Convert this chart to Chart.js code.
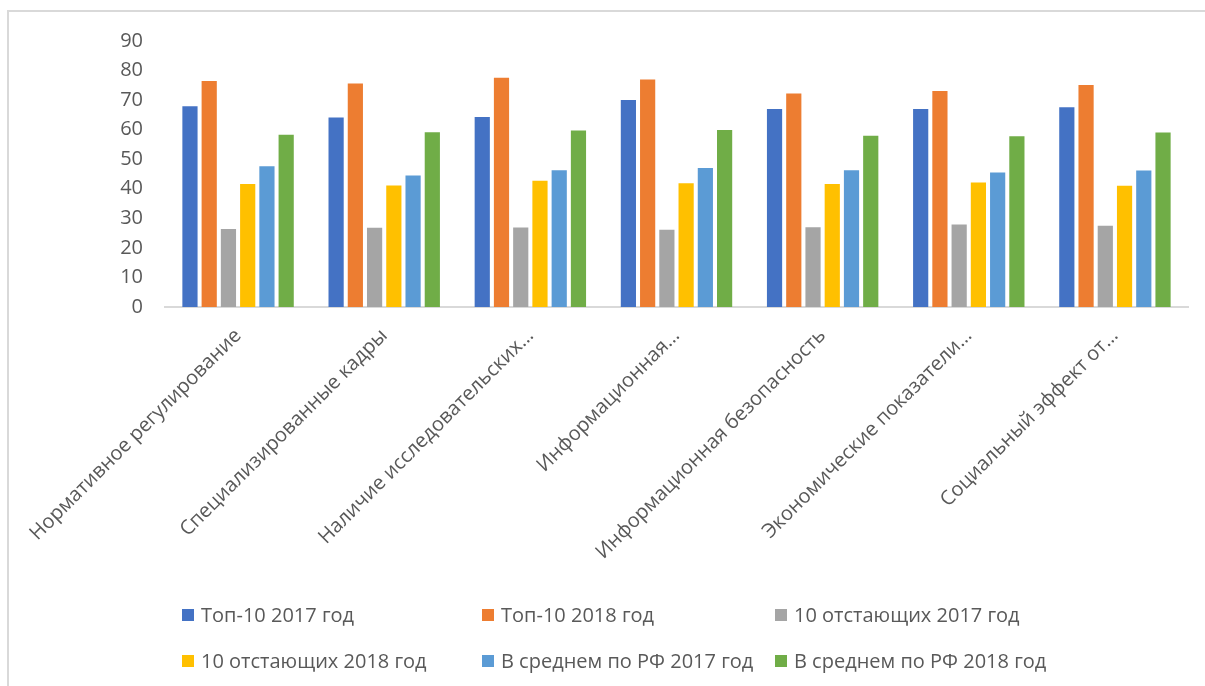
<!DOCTYPE html>
<html>
<head>
<meta charset="utf-8">
<script src="https://cdn.jsdelivr.net/npm/chart.js@4"></script>
<style>
  html, body { margin: 0; padding: 0; background: #fff; overflow: hidden; }
  #frame { position: absolute; left: 7px; top: 10px; width: 1220px; height: 700px; border: 2px solid #d9d9d9; box-sizing: border-box; }
  #wrap { position: absolute; left: 0; top: 0; width: 1205px; height: 686px; }
</style>
</head>
<body>
<div id="frame"></div>
<div id="wrap"><canvas id="barChart"></canvas></div>
<script>
const categories = [
    'Нормативное регулирование',
    'Специализированные кадры',
    'Наличие исследовательских…',
    'Информационная…',
    'Информационная безопасность',
    'Экономические показатели…',
    'Социальный эффект от…'
];
const seriesNames = [
    'Топ-10 2017 год',
    'Топ-10 2018 год',
    '10 отстающих 2017 год',
    '10 отстающих 2018 год',
    'В среднем по РФ 2017 год',
    'В среднем по РФ 2018 год'
];
const top10_2017 = [67.9, 64.1, 64.3, 70.0, 67.0, 67.0, 67.6];
const top10_2018 = [76.5, 75.6, 77.6, 77.0, 72.2, 73.1, 75.1];
const lag10_2017 = [26.4, 26.8, 26.9, 26.1, 27.0, 27.9, 27.5];
const lag10_2018 = [41.6, 41.1, 42.7, 41.9, 41.6, 42.1, 41.0];
const avgRF_2017 = [47.6, 44.5, 46.3, 47.0, 46.3, 45.5, 46.2];
const avgRF_2018 = [58.3, 59.1, 59.7, 59.9, 57.9, 57.8, 59.0];
const yTicks = [0, 10, 20, 30, 40, 50, 60, 70, 80, 90];

const colors = ['#4472C4', '#ED7D31', '#A5A5A5', '#FFC000', '#5B9BD5', '#70AD47'];
const values = [top10_2017, top10_2018, lag10_2017, lag10_2018, avgRF_2017, avgRF_2018];
const textColor = '#595959';
const fontFamily = '"Open Sans", "Noto Sans", sans-serif';

// legend laid out as a 3-column grid like the original
const gridLegend = {
    id: 'gridLegend',
    afterDraw(chart) {
        const ctx = chart.ctx;
        const cols = [182, 482, 775];
        const rows = [615, 661];
        ctx.save();
        ctx.font = '20px ' + fontFamily;
        ctx.textBaseline = 'middle';
        chart.data.datasets.forEach((ds, i) => {
            const x = cols[i % 3];
            const y = rows[Math.floor(i / 3)];
            ctx.fillStyle = ds.backgroundColor;
            ctx.fillRect(x, y - 6, 12, 12);
            ctx.fillStyle = textColor;
            ctx.fillText(ds.label, x + 19, y + 1);
        });
        ctx.restore();
    }
};

const ctx = document.getElementById('barChart').getContext('2d');
new Chart(ctx, {
    type: 'bar',
    data: {
        labels: categories,
        datasets: seriesNames.map((name, i) => ({
            label: name,
            data: values[i],
            backgroundColor: colors[i],
            categoryPercentage: 0.79,
            barPercentage: 0.79
        }))
    },
    options: {
        responsive: true,
        maintainAspectRatio: false,
        animation: false,
        layout: { padding: { top: 41, right: 17, bottom: 0, left: 0 } },
        plugins: {
            legend: { display: false },
            tooltip: { enabled: false }
        },
        scales: {
            x: {
                grid: { display: false, drawTicks: false },
                border: { display: true, color: '#d9d9d9', width: 2 },
                ticks: {
                    color: textColor,
                    font: { family: fontFamily, size: 20 },
                    minRotation: 45,
                    maxRotation: 45,
                    autoSkip: false,
                    padding: 17
                },
                afterFit(scale) { scale.height = 379; }
            },
            y: {
                min: 0,
                max: 90,
                grid: { display: false, drawTicks: false },
                border: { display: false },
                afterBuildTicks(scale) { scale.ticks = yTicks.map(v => ({ value: v })); },
                ticks: {
                    color: textColor,
                    font: { family: fontFamily, size: 20 },
                    padding: 22
                },
                afterFit(scale) { scale.width = 165; }
            }
        }
    },
    plugins: [gridLegend]
});
</script>
</body>
</html>
